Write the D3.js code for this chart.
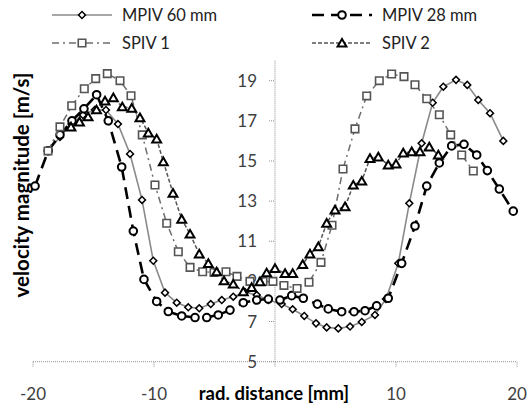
<!DOCTYPE html>
<html>
<head>
<meta charset="utf-8">
<script src="https://cdn.jsdelivr.net/npm/d3@7"></script>
<style>
  body { margin: 0; background: #fff; }
  svg { display: block; font-family: Lato, "Open Sans", sans-serif; }
</style>
</head>
<body>
<svg id="chart" width="527" height="409"></svg>
<script>
// radial distance [mm] / velocity [m/s]
var mpiv60X = [-18.76, -17.77, -16.82, -15.87, -14.88, -13.97, -12.98, -11.98, -10.99, -10.06, -9.09, -8.12, -7.17, -6.26, -5.31, -4.40, -3.45, -2.48, -1.51, -0.55, 0.55, 1.46, 2.42, 3.39, 4.27, 5.23, 6.20, 7.17, 8.26, 9.17, 10.19, 11.10, 12.12, 13.03, 13.91, 14.96, 15.89, 16.80, 17.77, 18.87];
var mpiv60Y = [15.49, 16.19, 16.84, 17.29, 17.55, 17.54, 16.84, 15.35, 13.06, 10.03, 8.44, 7.94, 7.71, 7.66, 7.87, 8.07, 8.24, 8.47, 8.32, 8.07, 7.87, 7.61, 7.28, 6.91, 6.71, 6.66, 6.75, 6.98, 7.33, 8.12, 9.90, 12.89, 15.88, 17.90, 18.70, 19.04, 18.79, 18.04, 17.38, 16.00];

var mpiv28X = [-19.83, -18.74, -17.77, -16.78, -15.79, -14.74, -13.78, -12.67, -11.71, -10.83, -9.78, -8.82, -7.71, -6.61, -5.64, -4.69, -3.72, -2.62, -1.51, -0.55, 0.41, 1.38, 2.34, 3.50, 4.40, 5.51, 6.53, 7.44, 8.40, 9.36, 10.47, 11.57, 12.54, 13.58, 14.60, 15.62, 16.67, 17.55, 18.54, 19.69];
var mpiv28Y = [13.75, 15.51, 16.30, 17.00, 17.60, 18.30, 17.00, 14.70, 11.51, 9.10, 8.00, 7.50, 7.28, 7.20, 7.20, 7.33, 7.57, 7.94, 8.07, 8.12, 8.07, 8.29, 8.16, 7.87, 7.63, 7.49, 7.49, 7.54, 7.78, 8.16, 9.90, 11.76, 13.75, 14.90, 15.75, 15.83, 15.30, 14.52, 13.60, 12.50];

var spiv1X = [-18.76, -17.77, -16.80, -15.76, -14.82, -13.86, -12.81, -11.90, -10.97, -9.92, -8.95, -7.99, -7.02, -5.98, -5.04, -4.05, -3.14, -2.07, -0.99, -0.17, 0.74, 1.82, 2.81, 3.80, 4.71, 5.62, 6.61, 7.58, 8.62, 9.64, 10.66, 11.57, 12.54, 13.58, 14.52, 15.43, 16.39];
var spiv1Y = [15.50, 16.70, 17.75, 18.60, 19.10, 19.35, 19.00, 18.25, 16.30, 13.80, 11.90, 10.48, 9.70, 9.48, 9.45, 9.48, 9.25, 9.00, 9.00, 9.00, 8.80, 8.65, 8.96, 9.95, 11.80, 14.60, 16.60, 18.24, 19.00, 19.33, 19.20, 18.80, 18.10, 17.30, 16.30, 15.30, 14.50];

var spiv2X = [-16.86, -16.16, -15.45, -14.75, -14.05, -13.36, -12.62, -11.84, -11.16, -10.47, -9.78, -9.23, -8.43, -7.71, -7.02, -6.26, -5.51, -4.82, -4.21, -3.45, -2.62, -1.93, -1.24, -0.69, 0.00, 0.83, 1.46, 2.29, 2.89, 3.58, 4.27, 4.96, 5.79, 6.47, 7.17, 7.85, 8.54, 9.36, 10.00, 10.60, 11.30, 11.98, 12.75, 13.50];
var spiv2Y = [16.70, 16.95, 17.20, 17.55, 17.99, 18.15, 17.70, 17.63, 17.16, 16.40, 16.10, 14.97, 13.40, 12.10, 11.36, 10.37, 9.90, 9.48, 9.03, 8.87, 8.49, 8.70, 8.99, 9.43, 9.65, 9.40, 9.40, 9.85, 10.37, 10.73, 11.90, 12.56, 12.72, 13.80, 14.00, 15.13, 15.20, 14.80, 14.85, 15.40, 15.46, 15.46, 15.70, 15.30];

var xTicks = [-20, -10, 0, 10, 20];
var xTickLabels = ["-20", "-10", "", "10", "20"];
var yTicks = [5, 7, 9, 11, 13, 15, 17, 19];

var series = [
  { name: "MPIV 60 mm", xs: mpiv60X, ys: mpiv60Y, color: "#8a8a8a", width: 1.6, dash: null,
    marker: "diamond", mStroke: "#000", mWidth: 1.5 },
  { name: "MPIV 28 mm", xs: mpiv28X, ys: mpiv28Y, color: "#000", width: 2.6, dash: "12,7",
    marker: "circle", mStroke: "#000", mWidth: 2 },
  { name: "SPIV 1", xs: spiv1X, ys: spiv1Y, color: "#6e6e6e", width: 1.5, dash: "7,4,2,4",
    marker: "square", mStroke: "#555", mWidth: 1.6 },
  { name: "SPIV 2", xs: spiv2X, ys: spiv2Y, color: "#555", width: 1.5, dash: "4,2",
    marker: "triangle", mStroke: "#000", mWidth: 2 }
];

var svg = d3.select("#chart");
var x = d3.scaleLinear().domain([-20, 20]).range([33, 517]);
var y = d3.scaleLinear().domain([5, 20]).range([361.7, 60.6]);

function drawMarker(sel, kind) {
  if (kind === "circle") {
    sel.append("circle").attr("r", 3.8);
  } else if (kind === "diamond") {
    sel.append("path").attr("d", d3.symbol(d3.symbolSquare, 24)()).attr("transform", "rotate(45)");
  } else if (kind === "square") {
    sel.append("path").attr("d", d3.symbol(d3.symbolSquare, 56)());
  } else {
    sel.append("path").attr("d", d3.symbol(d3.symbolTriangle, 34)()).attr("transform", "translate(0,1)");
  }
}

// axes (dotted, crossing at 0 / 5)
var axisColor = "#8f8f8f";
svg.append("line")
  .attr("x1", x(-20)).attr("x2", x(20)).attr("y1", y(5)).attr("y2", y(5))
  .attr("stroke", axisColor).attr("stroke-width", 1).attr("stroke-dasharray", "1,1");
svg.append("line")
  .attr("x1", x(0)).attr("x2", x(0)).attr("y1", y(5)).attr("y2", y(20))
  .attr("stroke", axisColor).attr("stroke-width", 1).attr("stroke-dasharray", "1,1");

svg.selectAll(".xtick").data(xTicks).enter().append("line")
  .attr("x1", d => x(d)).attr("x2", d => x(d))
  .attr("y1", y(5)).attr("y2", y(5) + 6)
  .attr("stroke", axisColor).attr("stroke-dasharray", "1,1");
svg.selectAll(".ytick").data(yTicks).enter().append("line")
  .attr("x1", x(0) - 6).attr("x2", x(0))
  .attr("y1", d => y(d)).attr("y2", d => y(d))
  .attr("stroke", axisColor).attr("stroke-dasharray", "1,1");

svg.selectAll(".xlab").data(xTicks).enter().append("text")
  .attr("x", d => x(d)).attr("y", 400)
  .attr("text-anchor", "middle")
  .attr("font-size", 17).attr("fill", "#404040")
  .text((d, i) => xTickLabels[i]);
svg.selectAll(".ylab").data(yTicks).enter().append("text")
  .attr("x", 257).attr("y", d => y(d) + 6)
  .attr("text-anchor", "end")
  .attr("font-size", 17).attr("fill", "#404040")
  .text(d => d);

svg.append("text")
  .attr("x", 274).attr("y", 400)
  .attr("text-anchor", "middle")
  .attr("font-size", 18.5).attr("font-weight", "bold")
  .text("rad. distance [mm]");
svg.append("text")
  .attr("transform", "translate(29,185) rotate(-90)")
  .attr("text-anchor", "middle")
  .attr("font-size", 20.5).attr("font-weight", "bold")
  .text("velocity magnitude [m/s]");

// series
var line = d3.line().x(d => x(d[0])).y(d => y(d[1]));
series.forEach(function (s) {
  var pts = s.xs.map((v, i) => [v, s.ys[i]]);
  svg.append("path")
    .datum(pts)
    .attr("fill", "none")
    .attr("stroke", s.color)
    .attr("stroke-width", s.width)
    .attr("stroke-dasharray", s.dash)
    .attr("d", line);
  var m = svg.append("g")
    .attr("fill", "#fff").attr("stroke", s.mStroke).attr("stroke-width", s.mWidth)
    .selectAll("g").data(pts).enter().append("g")
    .attr("transform", d => "translate(" + x(d[0]) + "," + y(d[1]) + ")");
  drawMarker(m, s.marker);
});

// legend
var legendPos = [
  { x: 52, y: 15 }, { x: 312, y: 15 },
  { x: 52, y: 43 }, { x: 312, y: 43 }
];
series.forEach(function (s, i) {
  var p = legendPos[i];
  var g = svg.append("g").attr("transform", "translate(" + p.x + "," + p.y + ")");
  g.append("line").attr("x1", 0).attr("x2", 60).attr("y1", 0).attr("y2", 0)
    .attr("stroke", s.color).attr("stroke-width", s.width)
    .attr("stroke-dasharray", s.dash);
  var mg = g.append("g").attr("transform", "translate(30,0)")
    .attr("fill", "#fff").attr("stroke", s.mStroke).attr("stroke-width", s.mWidth);
  drawMarker(mg, s.marker);
  g.append("text").attr("x", 70).attr("y", 6)
    .attr("font-size", 16.5).attr("fill", "#222")
    .text(s.name);
});
</script>
</body>
</html>
